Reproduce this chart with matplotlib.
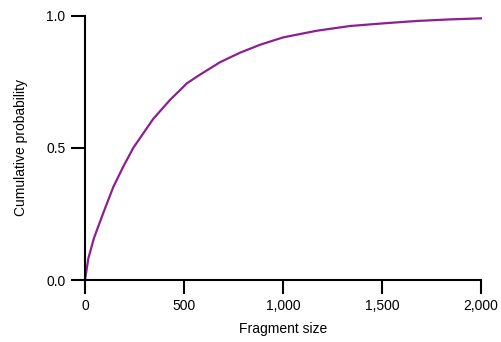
import matplotlib
matplotlib.use("Agg")
import matplotlib.pyplot as plt
from matplotlib.ticker import FuncFormatter

plt.rcParams['font.family'] = ['Liberation Sans', 'DejaVu Sans']

# cumulative distribution of fragment sizes
fragment_size = [0, 17, 45, 93, 143, 194, 244, 345, 429, 497, 514, 581,
                 682, 783, 884, 1001, 1170, 1338, 1506, 1675, 1843, 2000]
cum_prob = [0.0, 0.082, 0.158, 0.255, 0.352, 0.430, 0.500, 0.610, 0.681,
            0.731, 0.744, 0.777, 0.824, 0.860, 0.890, 0.918, 0.943, 0.961,
            0.971, 0.980, 0.986, 0.990]

x_ticks = [0, 500, 1000, 1500, 2000]
y_ticks = [0.0, 0.5, 1.0]

fig = plt.figure(figsize=(5.02, 3.42), dpi=100)
ax = fig.add_axes([85 / 502, 1 - 280 / 342, 396 / 502, 264.3 / 342])

ax.plot(fragment_size, cum_prob, color='#8e1f92', lw=1.6, clip_on=False)

ax.set_xlim(0, 2000)
ax.set_ylim(0, 1)
ax.set_xticks(x_ticks)
ax.set_yticks(y_ticks)
ax.xaxis.set_major_formatter(FuncFormatter(lambda v, p: f'{int(v):,}'))
ax.yaxis.set_major_formatter(FuncFormatter(lambda v, p: f'{v:.1f}'))

for s in ['top', 'right']:
    ax.spines[s].set_visible(False)
for s in ['left', 'bottom']:
    ax.spines[s].set_linewidth(1.5)
    ax.spines[s].set_color('black')

ax.tick_params(axis='both', direction='out', length=10, width=1.5,
               labelsize=10, colors='black')
ax.tick_params(axis='x', pad=4)
ax.tick_params(axis='y', pad=4)

ax.set_xlabel('Fragment size', fontsize=10, labelpad=6)
ax.set_ylabel('Cumulative probability', fontsize=10, labelpad=13)

fig.savefig('out.png', dpi=100)
